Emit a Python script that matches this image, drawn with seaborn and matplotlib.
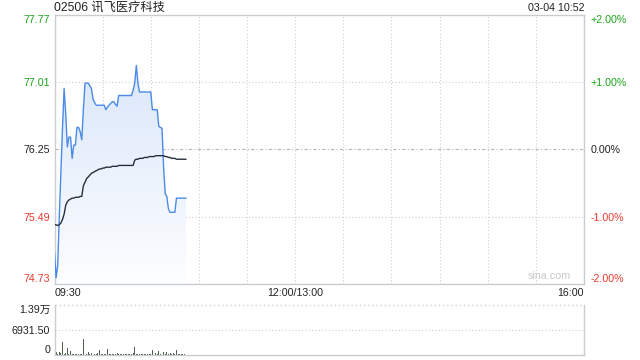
import numpy as np
import pandas as pd
import matplotlib
matplotlib.use("Agg")
import matplotlib.pyplot as plt
from matplotlib.colors import LinearSegmentedColormap
import seaborn as sns

# ---------------- data ----------------
title = "02506 讯飞医疗科技"
stamp = "03-04 10:52"
prev_close = 76.25
price_ticks = [74.73, 75.49, 76.25, 77.01, 77.77]
price_tick_labels = ["74.73", "75.49", "76.25", "77.01", "77.77"]
pct_labels = ["-2.00%", "-1.00%", "0.00%", "+1.00%", "+2.00%"]
time_labels = ["09:30", "12:00/13:00", "16:00"]
time_label_pos = [0, 150, 330]
vol_ticks = [0, 6931.50, 13863]
vol_labels = ["0", "6931.50", "1.39万"]

price = [75.09, 74.80, 74.94, 75.50, 76.00, 76.50, 76.94, 76.65, 76.28, 76.39,
         76.39, 76.15, 76.30, 76.30, 76.50, 76.50, 76.45, 76.36, 76.70, 77.00,
         77.00, 77.00, 76.97, 76.94, 76.82, 76.78, 76.75, 76.75, 76.75, 76.75,
         76.75, 76.75, 76.70, 76.73, 76.75, 76.77, 76.79, 76.79, 76.76, 76.74,
         76.86, 76.86, 76.86, 76.86, 76.86, 76.86, 76.86, 76.86, 76.86, 76.92,
         77.00, 77.20, 77.00, 76.90, 76.90, 76.90, 76.90, 76.90, 76.90, 76.90,
         76.90, 76.70, 76.70, 76.70, 76.70, 76.51, 76.50, 76.49, 76.05, 75.75,
         75.72, 75.58, 75.54, 75.54, 75.54, 75.54, 75.70, 75.70, 75.70, 75.70,
         75.70, 75.70, 75.70]

avg_price = [75.40, 75.40, 75.39, 75.40, 75.42, 75.46, 75.52, 75.62, 75.66, 75.68,
             75.69, 75.70, 75.70, 75.71, 75.71, 75.71, 75.72, 75.72, 75.84, 75.88,
             75.92, 75.94, 75.96, 75.98, 75.99, 76.00, 76.01, 76.02, 76.03, 76.03,
             76.04, 76.04, 76.05, 76.05, 76.05, 76.05, 76.06, 76.06, 76.06, 76.06,
             76.07, 76.07, 76.07, 76.07, 76.07, 76.07, 76.07, 76.07, 76.07, 76.07,
             76.13, 76.14, 76.14, 76.15, 76.15, 76.15, 76.16, 76.16, 76.16, 76.17,
             76.17, 76.17, 76.17, 76.18, 76.18, 76.18, 76.18, 76.18, 76.18, 76.17,
             76.17, 76.16, 76.16, 76.15, 76.15, 76.15, 76.14, 76.14, 76.14, 76.14,
             76.14, 76.14, 76.14]

volume = [13863, 900, 400, 900, 500, 3700, 400, 500, 1850, 400,
          1100, 300, 400, 300, 200, 400, 300, 200, 4400, 800,
          400, 700, 300, 500, 300, 400, 200, 500, 1400, 300,
          300, 200, 400, 1700, 300, 400, 200, 400, 300, 500,
          300, 200, 400, 300, 200, 300, 400, 300, 200, 600,
          2100, 400, 300, 200, 300, 300, 200, 400, 300, 200,
          400, 1400, 300, 500, 300, 1100, 400, 300, 700, 300,
          800, 400, 600, 300, 500, 300, 1400, 400, 300, 200,
          300, 200, 100]

minutes = np.arange(len(price))
df = pd.DataFrame({"minute": minutes, "price": price, "avg": avg_price, "volume": volume})

# ---------------- style ----------------
sns.set_theme(style="white")
plt.rcParams["font.family"] = ["Liberation Sans", "Noto Sans CJK SC", "DejaVu Sans"]

GREEN = "#1aa41a"
RED = "#ea3a2e"
BLACK = "#222222"
GRID = "#cfcfcf"
SPINE = "#c9cdd2"
FS = 7.7

fig = plt.figure(figsize=(6.4, 3.6), dpi=100)
W, H = 640.0, 360.0
L, R = 54.5, 584.0
ax = fig.add_axes([L / W, 1 - 284 / H, (R - L) / W, (284 - 15) / H])
axv = fig.add_axes([L / W, 1 - 355 / H, (R - L) / W, (355 - 305) / H])

ymin, ymax = price_ticks[0], price_ticks[-1]

# gradient fill under price line
poly = ax.fill_between(df["minute"], df["price"], ymin, color="none", lw=0)
cmap = LinearSegmentedColormap.from_list("g", ["#fdfeff", "#d3e2f9"])
grad = np.linspace(0, 1, 256).reshape(-1, 1)
im = ax.imshow(grad, aspect="auto", cmap=cmap, origin="lower",
               extent=[0, minutes[-1], ymin, ymax], zorder=1)
im.set_clip_path(poly.get_paths()[0], transform=ax.transData)

sns.lineplot(data=df, x="minute", y="price", ax=ax, color="#4b8ae6", linewidth=1.0, zorder=3)
sns.lineplot(data=df, x="minute", y="avg", ax=ax, color="#27303d", linewidth=1.0, zorder=4)

ax.set_xlim(0, 330)
ax.set_ylim(ymin, ymax)

# grid
for xv in range(30, 330, 30):
    ax.axvline(xv, color=GRID, lw=0.8, ls=(0, (1, 2)), zorder=0)
for yv in [price_ticks[1], price_ticks[3]]:
    ax.axhline(yv, color=GRID, lw=0.8, ls=(0, (1, 2)), zorder=0)
ax.axhline(prev_close, color="#b5b5b5", lw=0.8, ls=(0, (3, 2, 1, 2)), zorder=0)

for s in ax.spines.values():
    s.set_color(SPINE)
    s.set_linewidth(1.0)

ax.set_xlabel("")
ax.set_ylabel("")
ax.set_xticks([])
ax.set_yticks(price_ticks)
ax.set_yticklabels(price_tick_labels)
ax.tick_params(axis="y", length=0, pad=3, labelsize=FS)
lab_colors = [RED, RED, BLACK, GREEN, GREEN]
for lab, c in zip(ax.get_yticklabels(), lab_colors):
    lab.set_color(c)
ylabs = ax.get_yticklabels()
ylabs[0].set_verticalalignment("bottom")
ylabs[-1].set_verticalalignment("top")

axr = ax.twinx()
axr.set_ylim(ymin, ymax)
axr.set_yticks(price_ticks)
axr.set_yticklabels(pct_labels)
axr.tick_params(axis="y", length=0, pad=5, labelsize=FS)
for lab, c in zip(axr.get_yticklabels(), lab_colors):
    lab.set_color(c)
rlabs = axr.get_yticklabels()
rlabs[0].set_verticalalignment("bottom")
rlabs[-1].set_verticalalignment("top")
for s in axr.spines.values():
    s.set_visible(False)
axr.grid(False)

# time labels
t_y = 1 - 293 / H
for lbl, pos, ha in zip(time_labels, time_label_pos, ["left", "center", "right"]):
    fx = (L + pos / 330 * (R - L)) / W
    fig.text(fx, t_y, lbl, ha=ha, va="center", fontsize=FS, color=BLACK)

fig.text(L / W, 1 - 8 / H, title, ha="left", va="center", fontsize=8.8, color=BLACK)
fig.text(R / W, 1 - 8 / H, stamp, ha="right", va="center", fontsize=FS, color=BLACK)
ax.text(0.975, 0.012, "sina.com", transform=ax.transAxes, ha="right", va="bottom",
        fontsize=FS, color="#c8c8c8")

# ---------------- volume ----------------
axv.bar(df["minute"], df["volume"], width=0.6, color="#4f5e48", linewidth=0)
axv.set_xlim(0, 330)
axv.set_ylim(0, vol_ticks[-1])
axv.axhline(vol_ticks[1], color=GRID, lw=0.8, ls=(0, (1, 2)), zorder=0)
axv.axhline(vol_ticks[-1], color=GRID, lw=1.0, ls=(0, (1, 2)), zorder=0, clip_on=False)
axv.spines["top"].set_visible(False)
for k in ["left", "right", "bottom"]:
    axv.spines[k].set_color(SPINE)
    axv.spines[k].set_linewidth(1.0)
axv.set_xticks([])
axv.set_yticks(vol_ticks)
axv.set_yticklabels(vol_labels)
axv.tick_params(axis="y", length=0, pad=3, labelsize=FS, labelcolor=BLACK)
vl = axv.get_yticklabels()
vl[0].set_verticalalignment("bottom")
vl[-1].set_verticalalignment("top")
axv.set_xlabel("")
axv.set_ylabel("")

fig.savefig("out.png", dpi=100)
